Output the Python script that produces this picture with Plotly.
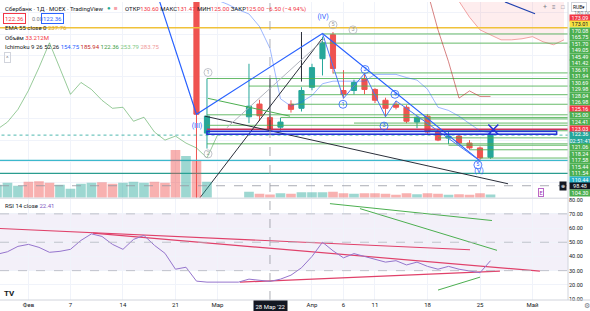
import plotly.graph_objects as go

# ---------------- time axis (bar index, 0 = 28 Мар 2022) ----------------
tick_bars = [-23, -19, -14, -9, -5, 4, 7, 10, 15, 20, 25]
tick_text = ["Фев", "7", "14", "21", "Мар", "Апр", "6", "11", "18", "25", "Май"]
crosshair_bar = 0
crosshair_label = "28 Мар '22"
crosshair_price = 98.48

# ---------------- candles ----------------
candle_bar = [-7, -6, -2, -1, 0, 1, 2, 3, 4, 5, 6, 7, 8, 9, 10, 11, 12, 13, 14, 15, 16, 17, 18, 19, 20, 21]
candle_open = [188.0, 123.3, 131.0, 137.0, 130.60, 126.1, 136.9, 135.0, 144.9, 158.4, 169.7, 143.4, 143.4,
               149.1, 143.9, 138.8, 136.9, 135.5, 128.5, 131.3, 123.8, 121.0, 121.9, 118.6, 116.3, 111.9]
candle_high = [190.0, 149.0, 156.0, 139.0, 131.47, 130.5, 138.8, 145.0, 156.0, 168.8, 171.0, 153.0, 148.5,
               151.4, 144.5, 140.0, 138.5, 136.5, 131.5, 132.2, 124.5, 124.2, 122.8, 120.0, 117.0, 123.3]
candle_low = [89.6, 116.0, 128.0, 129.0, 125.00, 124.5, 133.0, 133.5, 143.5, 150.5, 151.4, 139.7, 141.5,
              141.6, 137.5, 131.0, 134.5, 128.0, 125.6, 123.0, 119.5, 118.1, 118.0, 115.5, 110.2, 111.2]
candle_close = [132.2, 131.3, 136.0, 131.5, 125.00, 128.5, 134.5, 143.4, 154.2, 165.9, 153.8, 141.6, 147.2,
                143.9, 138.8, 135.0, 135.5, 128.9, 130.8, 123.8, 120.0, 121.9, 118.6, 116.3, 111.6, 122.36]

# ---------------- volume (millions) ----------------
vol_bar = list(range(-26, 22))
volume = [130, 150, 120, 160, 165, 150, 130, 90, 140, 150, 155, 140, 150, 160, 150, 160, 150, 480, 420, 370, 160,
          0, 0, 0,
          60, 40, 33.2, 45, 40, 55, 55, 55, 60, 45, 40, 45, 45, 40, 30, 45, 35, 45, 40, 30, 35, 30, 45, 33]
vol_up = [True, True, True, False, False, False, True, True, True, True, False, False, True, True, True,
          False, False, False, True, False, True,
          True, True, True,
          True, False, False, True, False, True, True, True, False, False, True, False, False, False, False,
          False, True, False, False, True, False, False, False, True]

# ---------------- RSI 14 ----------------
rsi_bar = list(range(-26, 22))
rsi = [41.5, 43.3, 47.1, 48.5, 46.4, 42.9, 43.6, 45.0, 51.3, 55.9, 54.1, 48.5, 45.0, 52.0, 54.8, 47.8, 42.2,
       31.0, 32.4, 22.6, 21.9,
       21.9, 21.9, 21.9,
       24.0, 23.3, 22.41, 24.0, 26.8, 32.0, 40.0, 50.0, 44.0, 39.0, 42.0, 40.0, 38.0, 36.0, 37.0, 34.0, 36.0,
       33.0, 31.0, 33.0, 31.0, 30.0, 28.5, 37.0]

# ---------------- Ichimoku ----------------
tenkan_bar = list(range(-5, 22))
tenkan = [186.0, 184.0, 181.5, 179.5, 173.6, 163.3, 139.5, 136.0, 138.0, 141.0, 146.6, 147.8, 147.8, 147.8,
          147.8, 151.0, 151.0, 151.0, 149.5, 148.3, 144.0, 135.5, 134.0, 131.3, 127.8, 124.4, 123.4]
kijun_bar = [15, 16, 17, 18, 19, 20, 21]
kijun = [190.0, 172.0, 157.0, 139.8, 143.2, 140.6, 140.6]
chikou_shift = 26
senkou_bar = list(range(18, 29))
senkou_a = [185.5, 178.0, 172.0, 169.7, 167.3, 167.3, 167.8, 168.8, 166.4, 165.0, 167.3]
senkou_b = [230.0, 230.0, 228.0, 226.0, 226.0, 224.0, 224.0, 222.0, 222.0, 220.0, 220.0]

# ---------------- horizontal levels ----------------
level_price = [170.08, 165.75, 151.70, 149.05, 145.49, 141.42, 136.91, 131.94, 130.69, 129.98, 128.04,
               126.98, 125.00, 124.41, 121.06, 118.24, 117.58, 115.44, 111.54]
level_start = [5, 5, 6, -6, -2, 3, 2, -6, 1, 14, 8, -6, 0, 15, 16, -6, 17, 19, 20]
ema_level = 173.01
cyan_level = 110.44
teal_level = 104.30
red_level = 125.16
red_level_start = -6
last_price = 122.36
zone_bar = [-6, 27.3]
zone_price = [122.8, 124.2]

# ---------------- Elliott drawings ----------------
wave_bar = [-10.5, -7, 5, 20]
wave_price = [185.2, 132.2, 170.3, 110.2]
subwave_bar = [5, 7, 9, 11, 12, 20]
subwave_price = [170.3, 139.7, 151.4, 131.0, 138.5, 110.2]
wave_labels = ["(III)", "(IV)", "(V)"]
wave_label_bar = [-6.95, 5.05, 19.9]
wave_label_price = [126.6, 178.1, 105.5]
sub_labels = ["1", "2", "3", "4", "5"]
sub_label_bar = [6.95, 9.05, 10.86, 11.9, 19.8]
sub_label_price = [136.9, 153.3, 126.6, 141.6, 108.3]
grey_labels = ["1", "2", "5", "3"]
grey_label_bar = [-5.9, -5.9, 6.0, 7.9]
grey_label_price = [151.9, 113.5, 174.4, 172.0]
x_mark_bar = [21.27]
x_mark_price = [125.0]

black_lines = [([-6.2, 22.67], [131.3, 99.4]),
               ([-6.67, 4.95], [92.8, 167.8]),
               ([0, 0], [149.1, 124.2]),
               ([3, 3], [171.0, 147.6])]
grey_line = ([-4.12, 5.24], [125.8, 168.0])
green_diag = ([-5.9, 1.9], [139.7, 131.3])
blue_top = ([22.38, 25.24], [185.2, 179.6])

rsi_red_lines = [([-25.71, 19.05], [59.7, 44.7]),
                 ([-16.86, 25.71], [56.4, 29.6]),
                 ([-2.86, 21.9], [21.9, 29.6])]
rsi_green_lines = [([5.71, 21.14], [77.2, 65.3]),
                   ([8.57, 21.62], [73.7, 44.3]),
                   ([16.0, 20.0], [16.3, 25.4])]

# ---------------- price-scale tags ----------------
RED, YEL, GRN, TEAL, CYAN, BLK = "#f23645", "#f5e342", "#4caf50", "#22a69a", "#26b3c9", "#131722"
tag_text = ["173.09", "173.01", "170.08", "165.75", "151.70", "149.05", "145.49", "141.42", "136.91",
            "131.94", "130.69", "129.98", "128.04", "126.98", "125.16", "125.00", "124.41", "123.03",
            "122.36<br>02:51:41", "121.06", "118.24", "117.58", "115.44", "111.54", "110.44", "98.48", "104.30"]
tag_bg = [RED, YEL] + [GRN] * 12 + [RED, GRN, GRN, RED, TEAL] + [GRN] * 5 + [CYAN, BLK, GRN]

# ================= figure =================
W, H = 590, 311
MR, MB = 22, 11
PW, PH = W - MR, H - MB
FONT = "Roboto, 'Liberation Sans', sans-serif"
TXT = "#131722"
GRID = "#f0f3fa"
X_RANGE = [-25.71, 28.38]
P_RANGE = [92.84, 185.15]
R_RANGE = [9.3, 80.7]
V_RANGE = [0, 1970]


def pxx(x):
    return x / PW


def pxy(y):
    return 1 - y / PH


fig = go.Figure()

# volume
fig.add_trace(go.Bar(x=vol_bar, y=volume, yaxis="y3",
                     marker=dict(color=["rgba(38,166,154,0.45)" if u else "rgba(239,83,80,0.45)" for u in vol_up],
                                 line=dict(width=0)),
                     width=0.92, hoverinfo="skip"))

# cloud
fig.add_trace(go.Scatter(x=senkou_bar, y=senkou_b, mode="lines", line=dict(color="rgba(239,154,154,0.8)", width=1)))
fig.add_trace(go.Scatter(x=senkou_bar, y=senkou_a, mode="lines", fill="tonexty",
                         fillcolor="rgba(242,54,69,0.09)", line=dict(color="rgba(239,154,154,0.9)", width=1)))


def hline(p, start, color, width=1, dash="solid"):
    fig.add_trace(go.Scatter(x=[start, X_RANGE[1] + 1], y=[p, p], mode="lines",
                             line=dict(color=color, width=width, dash=dash), hoverinfo="skip"))


hline(ema_level, X_RANGE[0] - 1, "#f0c23a", 1.5)
hline(cyan_level, X_RANGE[0] - 1, "#3cb9cc", 1.2)
hline(teal_level, X_RANGE[0] - 1, "#2a9d8f", 1.2)
for p, s in zip(level_price, level_start):
    hline(p, s, "rgba(76,175,80,0.85)", 1)
hline(red_level, red_level_start, "#c9345a", 1.5)
hline(last_price, X_RANGE[0] - 1, "rgba(34,166,154,0.8)", 1, "dot")

# ichimoku lines
fig.add_trace(go.Scatter(x=tenkan_bar, y=tenkan, mode="lines", line=dict(color="rgba(41,98,255,0.45)", width=1)))
fig.add_trace(go.Scatter(x=kijun_bar, y=kijun, mode="lines", line=dict(color="rgba(183,28,28,0.55)", width=1)))
fig.add_trace(go.Scatter(x=[b - chikou_shift for b in candle_bar], y=candle_close, mode="lines",
                         line=dict(color="rgba(67,160,71,0.55)", width=1)))

# drawings
for xs, ys in black_lines:
    fig.add_trace(go.Scatter(x=xs, y=ys, mode="lines", line=dict(color="#2a2e39", width=1)))
fig.add_trace(go.Scatter(x=grey_line[0], y=grey_line[1], mode="lines", line=dict(color="#b2b5be", width=1)))
fig.add_trace(go.Scatter(x=green_diag[0], y=green_diag[1], mode="lines", line=dict(color="#4caf50", width=1)))
fig.add_trace(go.Scatter(x=blue_top[0], y=blue_top[1], mode="lines", line=dict(color="#1e40af", width=1.2)))
fig.add_trace(go.Scatter(x=wave_bar, y=wave_price, mode="lines", line=dict(color="#2962ff", width=1.2)))
fig.add_trace(go.Scatter(x=subwave_bar, y=subwave_price, mode="lines", line=dict(color="#4a78f5", width=1)))

# candles
fig.add_trace(go.Candlestick(x=candle_bar, open=candle_open, high=candle_high, low=candle_low, close=candle_close,
                             increasing=dict(line=dict(color="#26a69a", width=1), fillcolor="#26a69a"),
                             decreasing=dict(line=dict(color="#ef5350", width=1), fillcolor="#ef5350"),
                             hoverinfo="skip"))

# wave labels
fig.add_trace(go.Scatter(x=sub_label_bar, y=sub_label_price, mode="markers+text", text=sub_labels,
                         textposition="middle center", textfont=dict(size=5.5, color="#2962ff", family=FONT),
                         marker=dict(symbol="circle-open", size=8, color="#2962ff", line=dict(width=0.8))))
fig.add_trace(go.Scatter(x=grey_label_bar, y=grey_label_price, mode="markers+text", text=grey_labels,
                         textposition="middle center", textfont=dict(size=5.5, color="#9598a1", family=FONT),
                         marker=dict(symbol="circle-open", size=8, color="#b2b5be", line=dict(width=0.8))))
fig.add_trace(go.Scatter(x=wave_label_bar, y=wave_label_price, mode="text", text=wave_labels,
                         textposition="middle center", textfont=dict(size=7, color="#2962ff", family=FONT)))
fig.add_trace(go.Scatter(x=x_mark_bar, y=x_mark_price, mode="markers",
                         marker=dict(symbol="x-thin-open", size=10, color="#2433d6", line=dict(width=1.6, color="#2433d6"))))

# RSI
for xs, ys in rsi_red_lines:
    fig.add_trace(go.Scatter(x=xs, y=ys, yaxis="y2", mode="lines", line=dict(color="#e0416a", width=1.2)))
for xs, ys in rsi_green_lines:
    fig.add_trace(go.Scatter(x=xs, y=ys, yaxis="y2", mode="lines", line=dict(color="#4caf50", width=1)))
fig.add_trace(go.Scatter(x=rsi_bar, y=rsi, yaxis="y2", mode="lines", line=dict(color="#9575cd", width=1)))

# ---------------- shapes ----------------
shapes = [
    dict(type="rect", xref="paper", yref="y2", x0=0, x1=1, y0=30, y1=70,
         fillcolor="rgba(126,87,194,0.09)", line=dict(width=0), layer="below"),
    dict(type="line", xref="paper", yref="y2", x0=0, x1=1, y0=70, y1=70, line=dict(color="#b2b5be", width=0.8, dash="dash")),
    dict(type="line", xref="paper", yref="y2", x0=0, x1=1, y0=50, y1=50, line=dict(color="#b2b5be", width=0.8, dash="dash")),
    dict(type="line", xref="paper", yref="y2", x0=0, x1=1, y0=30, y1=30, line=dict(color="#b2b5be", width=0.8, dash="dash")),
    dict(type="rect", xref="x", yref="y", x0=zone_bar[0], x1=zone_bar[1], y0=zone_price[0], y1=zone_price[1],
         fillcolor="rgba(41,98,255,0.18)", line=dict(color="#2433d6", width=1.5)),
    dict(type="line", xref="x", yref="paper", x0=crosshair_bar, x1=crosshair_bar, y0=0, y1=1,
         line=dict(color="#9598a1", width=0.8, dash="dash")),
    dict(type="line", xref="paper", yref="y", x0=0, x1=1, y0=crosshair_price, y1=crosshair_price,
         line=dict(color="#9598a1", width=0.8, dash="dash")),
    dict(type="line", xref="paper", yref="paper", x0=0, x1=1, y0=pxy(197.5), y1=pxy(197.5),
         line=dict(color="#d1d4dc", width=1)),
    dict(type="line", xref="paper", yref="paper", x0=1, x1=1, y0=0, y1=1, line=dict(color="#d1d4dc", width=1)),
    dict(type="line", xref="paper", yref="paper", x0=0, x1=1 + MR / PW, y0=0, y1=0, line=dict(color="#d1d4dc", width=1)),
]

# ---------------- annotations ----------------
anns = []


def note(x, y, text, size=6, color=TXT, xanchor="left", **kw):
    anns.append(dict(x=pxx(x), y=pxy(y), xref="paper", yref="paper", text=text, showarrow=False,
                     xanchor=xanchor, yanchor="middle", font=dict(size=size, color=color, family=FONT), **kw))


R = "<span style='color:#f23645'>"
E = "</span>"
note(3, 7, "Сбербанк · 1Д · MOEX · TradingView", 6)
note(109, 6, "●", 6, "#22ab94", xanchor="center")
note(116, 6, "■", 6, "#f7a1a8", xanchor="center")
note(123, 7, f"ОТКР{R}130.60{E} МАКС{R}131.47{E} МИН{R}125.00{E} ЗАКР{R}125.00{E} {R}−6.50 (−4.94%){E}", 6)
note(3, 17, "122.36", 6, "#f23645", bordercolor="#f23645", borderwidth=1, borderpad=1)
note(30, 17, "0.00", 5.5, "#787b86")
note(41, 17, "122.36", 6, "#2962ff", bordercolor="#2962ff", borderwidth=1, borderpad=1)
note(3, 26, "EMA 55 close 0 <span style='color:#d9a520'>237.76</span>", 6)
note(3, 36, f"Объём {R}33.212М{E}", 6)
note(3, 45, "Ichimoku 9 26 52 26 <span style='color:#2962ff'>154.75</span> <span style='color:#c62828'>185.94</span>"
            " <span style='color:#43a047'>122.36</span> <span style='color:#81c784'>253.79</span>"
            " <span style='color:#ef9a9a'>283.75</span>", 6)
note(4, 56, "^", 6, "#787b86", bordercolor="#d1d4dc", borderwidth=1, borderpad=1)
note(3, 205, "RSI 14 close <span style='color:#7e57c2'>22.41</span>", 6)

# toolbar top right
note(545, 5, "+", 7, "#787b86", xanchor="center")
note(554, 5, "≡", 6, "#787b86", xanchor="center")
note(563, 5, "□", 6, "#787b86", xanchor="center")
note(579, 5, "RUB▾", 5, TXT, xanchor="center", bordercolor="#d1d4dc", borderwidth=1, borderpad=1)

# price tags
note(572, 11, "180.00", 5.5, "#787b86")
for k, (t, bg) in enumerate(zip(tag_text, tag_bg)):
    if k < 18:
        yc, h = 16 + k * 6.55, 6.4
    elif k == 18:
        yc, h = 136.6, 11.5
    else:
        yc, h = 146 + (k - 19) * 6.55, 6.4
    fc = TXT if bg == YEL else "white"
    anns.append(dict(x=pxx(569), y=pxy(yc), xref="paper", yref="paper", xanchor="left", yanchor="middle",
                     text=t, showarrow=False, bgcolor=bg, width=20, height=h, borderpad=0, align="center",
                     font=dict(size=5.5, color=fc, family=FONT)))
note(563, 185, "⊕", 5, "white", xanchor="center", bgcolor=BLK)
note(541, 192, "E", 5.5, "#9c27b0", xanchor="center", bordercolor="#ba68c8", borderwidth=1, borderpad=0.5)

# time axis extras
note(270, 306, crosshair_label, 6, "white", xanchor="center", bgcolor=BLK, borderpad=1.5)
note(587, 306, "⚙", 7, "#787b86", xanchor="center")
note(9, 293, "<b>TV</b>", 8, TXT, xanchor="center")

fig.update_layout(
    width=W, height=H, margin=dict(l=0, r=MR, t=0, b=MB),
    paper_bgcolor="white", plot_bgcolor="white", showlegend=False,
    hovermode=False, dragmode=False,
    font=dict(family=FONT, color=TXT),
    xaxis=dict(range=X_RANGE, anchor="y2", tickvals=tick_bars, ticktext=tick_text, showgrid=True,
               gridcolor=GRID, zeroline=False, showline=False, ticks="",
               tickfont=dict(size=6, color=TXT, family=FONT), rangeslider=dict(visible=False), fixedrange=True),
    yaxis=dict(domain=[1 - 197 / PH, 1.0], range=P_RANGE, anchor="x", showticklabels=False,
               tickvals=[100, 110, 120, 130, 140, 150, 160, 170, 180], showgrid=True, gridcolor=GRID,
               zeroline=False, fixedrange=True),
    yaxis2=dict(domain=[0.0, 102 / PH], range=R_RANGE, anchor="x", side="right",
                tickvals=[10, 20, 30, 40, 50, 60, 70, 80],
                ticktext=["10.00", "20.00", "30.00", "40.00", "50.00", "60.00", "70.00", "80.00"],
                tickfont=dict(size=5.5, color=TXT, family=FONT), showgrid=True, gridcolor=GRID,
                zeroline=False, ticks="", fixedrange=True),
    yaxis3=dict(overlaying="y", range=V_RANGE, visible=False, fixedrange=True),
    shapes=shapes, annotations=anns,
)

fig.write_html("out.html", config={"displayModeBar": False, "staticPlot": True})
